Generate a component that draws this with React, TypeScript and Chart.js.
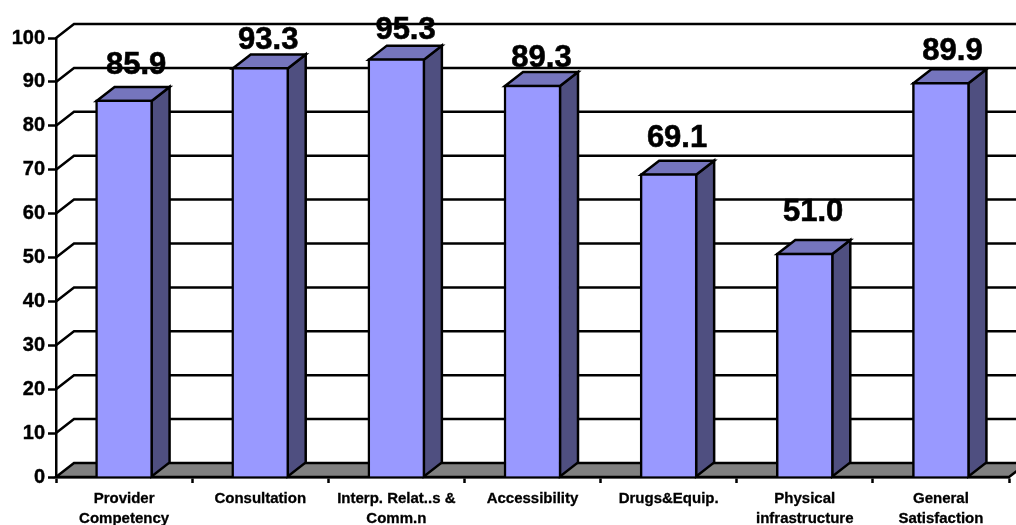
import React, { useEffect, useRef } from "react";
import { Chart, registerables } from "chart.js";

Chart.register(...registerables);

const categories = [
  ["Provider", "Competency"],
  ["Consultation"],
  ["Interp. Relat..s &", "Comm.n"],
  ["Accessibility"],
  ["Drugs&Equip."],
  ["Physical", "infrastructure"],
  ["General", "Satisfaction"],
];
const scores = [85.9, 93.3, 95.3, 89.3, 69.1, 51.0, 89.9];
const yTicks = [0, 10, 20, 30, 40, 50, 60, 70, 80, 90, 100];

const FONT = '"Liberation Sans", Arial, sans-serif';
const DEPTH_X = 18;
const DEPTH_Y = 14;
const LINE = 2.5;

// Hand placement of the value labels relative to each column's front top edge.
const labelShiftX = [12, 8, 9.2, 9, 8.4, 8.3, 11.6];
const labelShiftY = [-25.5, -18.5, -20, -18, -26.5, -32.5, -22];

// Extruded look: back wall, floor and the side and top faces of each column.
const depthPlugin = {
  id: "depth",
  beforeDatasetsDraw(chart: any) {
    const { ctx, scales, chartArea } = chart;
    const y = scales.y;
    const left = chartArea.left;
    const right = chartArea.right;
    const zero = y.getPixelForValue(0);

    ctx.save();
    ctx.lineWidth = LINE;
    ctx.strokeStyle = "#000000";
    ctx.lineJoin = "miter";

    ctx.beginPath();
    ctx.moveTo(left, zero);
    ctx.lineTo(left + DEPTH_X, zero - DEPTH_Y);
    ctx.lineTo(right + DEPTH_X, zero - DEPTH_Y);
    ctx.lineTo(right, zero);
    ctx.closePath();
    ctx.fillStyle = "#808080";
    ctx.fill();
    ctx.stroke();

    for (const v of yTicks) {
      if (v === 0) continue;
      const py = y.getPixelForValue(v);
      ctx.beginPath();
      ctx.moveTo(left, py);
      ctx.lineTo(left + DEPTH_X, py - DEPTH_Y);
      ctx.lineTo(right + DEPTH_X, py - DEPTH_Y);
      ctx.stroke();
    }

    for (const bar of chart.getDatasetMeta(0).data) {
      const w = bar.width / 2;
      const l = bar.x - w + 1;
      const r = bar.x + w - 1;
      const t = bar.y + 1;
      const b = bar.base;

      ctx.beginPath();
      ctx.moveTo(r, t);
      ctx.lineTo(r + DEPTH_X, t - DEPTH_Y);
      ctx.lineTo(r + DEPTH_X, b - DEPTH_Y);
      ctx.lineTo(r, b);
      ctx.closePath();
      ctx.fillStyle = "#4F4F80";
      ctx.fill();
      ctx.stroke();

      ctx.beginPath();
      ctx.moveTo(l, t);
      ctx.lineTo(l + DEPTH_X, t - DEPTH_Y);
      ctx.lineTo(r + DEPTH_X, t - DEPTH_Y);
      ctx.lineTo(r, t);
      ctx.closePath();
      ctx.fillStyle = "#7575BD";
      ctx.fill();
      ctx.stroke();
    }
    ctx.restore();
  },
  afterDatasetsDraw(chart: any) {
    const { ctx } = chart;
    ctx.save();
    ctx.fillStyle = "#000000";
    ctx.strokeStyle = "#000000";
    ctx.lineWidth = 0.6;
    ctx.font = `bold 31px ${FONT}`;
    ctx.textAlign = "center";
    ctx.textBaseline = "alphabetic";
    chart.getDatasetMeta(0).data.forEach((bar: any, i: number) => {
      const text = scores[i].toFixed(1);
      const tx = bar.x + labelShiftX[i];
      const ty = bar.y + labelShiftY[i];
      ctx.fillText(text, tx, ty);
      ctx.strokeText(text, tx, ty);
    });
    ctx.restore();
  },
};

export default function App() {
  const ref = useRef<HTMLCanvasElement>(null);

  useEffect(() => {
    const chart = new Chart(ref.current!, {
      type: "bar",
      data: {
        labels: categories,
        datasets: [
          {
            data: scores,
            backgroundColor: "#9999FF",
            borderColor: "#000000",
            borderWidth: LINE,
            barThickness: 57,
          },
        ],
      },
      options: {
        responsive: false,
        animation: false,
        layout: { padding: { top: 38, right: 7, left: 0, bottom: 0 } },
        plugins: { legend: { display: false }, tooltip: { enabled: false } },
        scales: {
          x: {
            afterFit: (s: any) => {
              s.height = 48;
            },
            grid: {
              drawOnChartArea: false,
              drawTicks: true,
              tickLength: 6,
              tickColor: "#000000",
              tickWidth: LINE,
            },
            border: { color: "#000000", width: LINE },
            ticks: {
              color: "#000000",
              maxRotation: 0,
              autoSkip: false,
              padding: 6,
              textStrokeColor: "#000000",
              textStrokeWidth: 0.3,
              font: { family: FONT, size: 15, weight: "bold", lineHeight: 1.33 },
            },
          },
          y: {
            min: 0,
            max: 100,
            afterFit: (s: any) => {
              s.width = 56;
            },
            afterBuildTicks: (s: any) => {
              s.ticks = yTicks.map((value) => ({ value }));
            },
            grid: {
              drawOnChartArea: false,
              drawTicks: true,
              tickLength: 8,
              tickColor: "#000000",
              tickWidth: LINE,
            },
            border: { color: "#000000", width: LINE },
            ticks: {
              color: "#000000",
              padding: 3,
              textStrokeColor: "#000000",
              textStrokeWidth: 0.4,
              font: { family: FONT, size: 20, weight: "bold" },
            },
          },
        },
      },
      plugins: [depthPlugin],
    });
    return () => chart.destroy();
  }, []);

  return (
    <div style={{ position: "absolute", left: 0, top: 0, width: 1016, height: 525, background: "#ffffff", overflow: "hidden" }}>
      <canvas ref={ref} width={1016} height={525} style={{ display: "block" }} />
    </div>
  );
}
